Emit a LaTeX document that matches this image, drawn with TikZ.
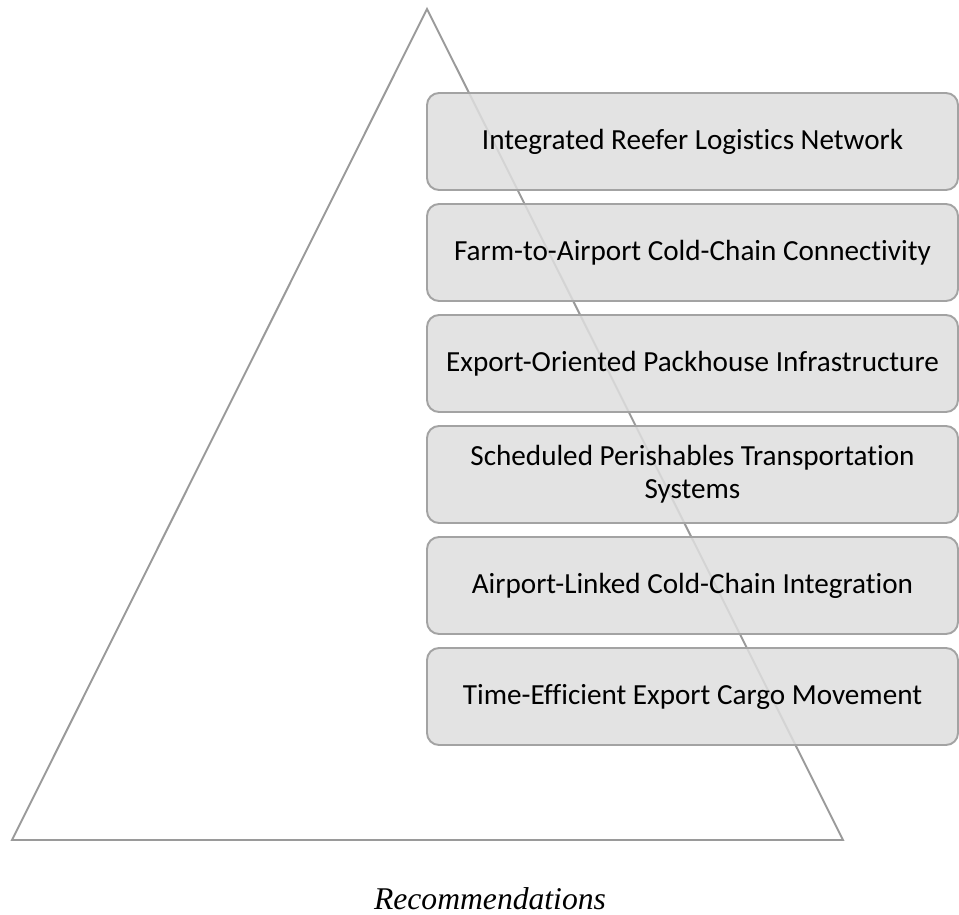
\documentclass[tikz,border=0pt]{standalone}
\usepackage{fontspec}
\setmainfont[Ligatures=NoCommon]{Carlito}
\newfontfamily\captionfont{Liberation Serif}
\usepackage{tikz}
\usetikzlibrary{positioning}
\definecolor{pyrline}{HTML}{9A9A9A}
\definecolor{boxfill}{HTML}{DEDEDE}
\definecolor{boxline}{HTML}{A3A3A3}

\begin{document}
\begin{tikzpicture}[x=0.02cm, y=-0.02cm,
	recbox/.style={draw=boxline, line width=1.1pt, fill=boxfill, fill opacity=0.86, text opacity=1,
	  rounded corners=12*0.02cm, minimum width=531*0.02cm, minimum height=97*0.02cm,
	  align=center, inner sep=0pt, font=\fontsize{16.6}{19}\selectfont}]
	\useasboundingbox (0,0) rectangle (959,915);
	\draw[color=pyrline, line width=1.1pt, line join=miter] (427,9) -- (843,840) -- (12,840) -- cycle;
	\node[recbox] (net) at (692.5,141.5) {Integrated Reefer Logistics Network};
	\node[recbox] (farm) at (692.5,252.5) {Farm-to-Airport Cold-Chain Connectivity};
	\node[recbox] (pack) at (692.5,363.5) {Export-Oriented Packhouse Infrastructure};
	\node[recbox] (sched) at (692.5,474.5) {Scheduled Perishables Transportation\\Systems};
	\node[recbox] (air) at (692.5,585.5) {Airport-Linked Cold-Chain Integration};
	\node[recbox] (cargo) at (692.5,696.5) {Time-Efficient Export Cargo Movement};
	\node[font=\captionfont\itshape\fontsize{18}{20}\selectfont] (cap) at (490,899) {Recommendations};
\end{tikzpicture}
\end{document}
